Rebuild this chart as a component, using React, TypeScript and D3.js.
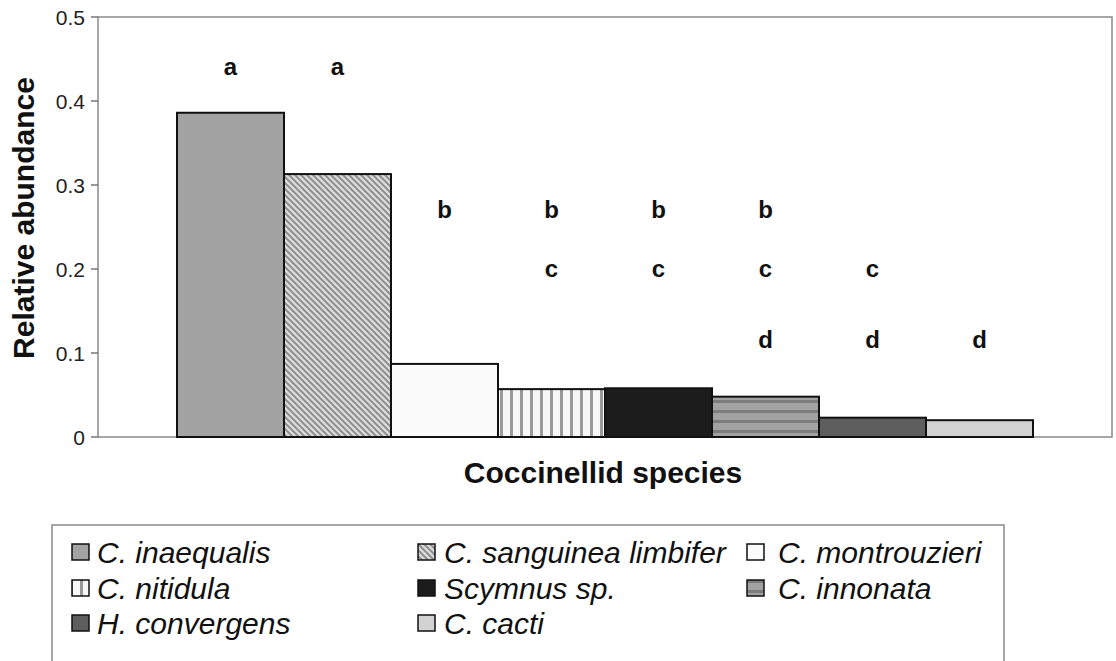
import React from 'react';
import * as d3 from 'd3';

// data
const species = [
  'C. inaequalis',
  'C. sanguinea limbifer',
  'C. montrouzieri',
  'C. nitidula',
  'Scymnus sp.',
  'C. innonata',
  'H. convergens',
  'C. cacti',
];
const abundance = [0.386, 0.313, 0.087, 0.057, 0.058, 0.048, 0.023, 0.02];
const groupLetters = [['a'], ['a'], ['b'], ['b', 'c'], ['b', 'c'], ['b', 'c', 'd'], ['c', 'd'], ['d']];
const yTicks = [0, 0.1, 0.2, 0.3, 0.4, 0.5];
// height (in y units) at which each letter row sits
const letterLevel: Record<string, number> = { a: 0.431, b: 0.261, c: 0.19, d: 0.106 };

const fills = ['#a3a3a3', 'url(#diag)', '#fbfbfb', 'url(#vert)', '#1c1c1c', 'url(#horiz)', '#5e5e5e', '#d2d2d2'];

const width = 1116;
const height = 661;
const plot = { left: 98, right: 1112, top: 17, bottom: 437 };
const outerGap = 79;
const font = '"Liberation Sans", Arial, sans-serif';

const legendCols = [72, 418, 747];
const legendTextX = [97, 444, 778];
const legendRows = [552, 588, 623];

export default function App() {
  const x = d3
    .scaleBand<string>()
    .domain(species)
    .range([plot.left + outerGap, plot.right - outerGap])
    .padding(0);
  const y = d3.scaleLinear().domain([0, 0.5]).range([plot.bottom, plot.top]);

  return (
    <svg
      width={width}
      height={height}
      style={{ position: 'absolute', left: 0, top: 0, background: '#fff' }}
      fontFamily={font}
    >
      <defs>
        <pattern id="diag" patternUnits="userSpaceOnUse" width={6} height={6}>
          <rect width={6} height={6} fill="#dadada" />
          <path d="M-1,-1 L7,7 M-1,5 L1,7 M5,-1 L7,1" stroke="#8a8a8a" strokeWidth={1.9} />
        </pattern>
        <pattern id="vert" patternUnits="userSpaceOnUse" width={10} height={10}>
          <rect width={10} height={10} fill="#f7f7f7" />
          <rect x={0} width={3} height={10} fill="#9a9a9a" />
        </pattern>
        <pattern id="horiz" patternUnits="userSpaceOnUse" width={10} height={10}>
          <rect width={10} height={10} fill="#a2a2a2" />
          <rect y={0} width={10} height={3} fill="#7c7c7c" />
        </pattern>
      </defs>

      {/* plot frame */}
      <rect
        x={plot.left}
        y={plot.top}
        width={plot.right - plot.left}
        height={plot.bottom - plot.top}
        fill="none"
        stroke="#8a8a8a"
        strokeWidth={1.5}
      />

      {/* y ticks */}
      {yTicks.map((t) => (
        <g key={t}>
          <line x1={plot.left - 7} x2={plot.left} y1={y(t)} y2={y(t)} stroke="#777" strokeWidth={1.5} />
          <text x={plot.left - 13} y={y(t)} dy="0.36em" textAnchor="end" fontSize={21} fill="#222">
            {d3.format('')(t)}
          </text>
        </g>
      ))}

      {/* bars */}
      {species.map((s, i) => (
        <rect
          key={s}
          x={x(s)}
          y={y(abundance[i])}
          width={x.bandwidth()}
          height={y(0) - y(abundance[i])}
          fill={fills[i]}
          stroke="#111"
          strokeWidth={2}
        />
      ))}

      {/* significance letters */}
      {species.map((s, i) =>
        groupLetters[i].map((l) => (
          <text
            key={s + l}
            x={(x(s) as number) + x.bandwidth() / 2}
            y={y(letterLevel[l])}
            textAnchor="middle"
            fontSize={24}
            fontWeight="bold"
            fill="#111"
          >
            {l}
          </text>
        ))
      )}

      {/* axis titles */}
      <text x={603} y={483} textAnchor="middle" fontSize={30} fontWeight="bold" fill="#111">
        Coccinellid species
      </text>
      <text
        transform={`translate(34,${(plot.top + plot.bottom) / 2 - 9}) rotate(-90)`}
        textAnchor="middle"
        fontSize={30}
        fontWeight="bold"
        fill="#111"
      >
        Relative abundance
      </text>

      {/* legend */}
      <rect x={52} y={525} width={952} height={150} fill="#fff" stroke="#8a8a8a" strokeWidth={1.5} />
      {species.map((s, i) => {
        const col = i % 3;
        const row = Math.floor(i / 3);
        const cy = legendRows[row];
        return (
          <g key={'lg' + s}>
            <rect x={legendCols[col]} y={cy - 8} width={17} height={16} fill={fills[i]} stroke="#111" strokeWidth={1.5} />
            <text x={legendTextX[col]} y={cy} dy="0.36em" fontSize={30} fontStyle="italic" fill="#111">
              {s}
            </text>
          </g>
        );
      })}
    </svg>
  );
}
